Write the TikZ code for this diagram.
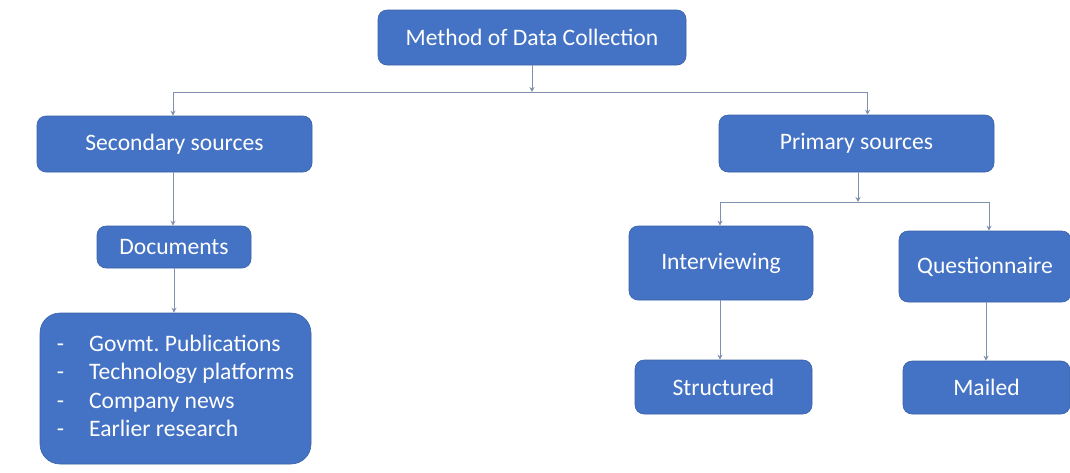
\documentclass[tikz,border=0pt]{standalone}
\usepackage{fontspec}
\setmainfont{Carlito}
\usetikzlibrary{arrows.meta}
\definecolor{boxblue}{HTML}{4472C4}
\definecolor{linec}{HTML}{7F8FAE}
\tikzset{
  box/.style={draw=boxblue!85!black, line width=0.6pt, fill=boxblue, text=white, rounded corners=9pt,
    inner sep=0pt, font=\fontsize{23.6}{28}\selectfont},
  conn/.style={draw=linec, line width=1pt, -{Stealth[length=5pt,width=5pt]}}
}
\begin{document}
\frenchspacing
\begin{tikzpicture}[x=1pt,y=-1pt]
\useasboundingbox[fill=white] (0,0) rectangle (1070,472);
\node[box, minimum width=308pt, minimum height=55pt] (m) at (532,37.5) {Method of Data Collection};
\node[box, minimum width=275pt, minimum height=56pt] (sec) at (174.5,144) {Secondary sources};
\node[box, minimum width=154pt, minimum height=42pt] (doc) at (174,247) {Documents};
\node[box, minimum width=271pt, minimum height=151pt, rounded corners=20pt] (lst) at (175.5,388.5)
  {\fontsize{23.6}{28.5}\selectfont\frenchspacing\begin{tabular}{@{}l@{\hspace{25pt}}l@{}}
  - & Govmt. Publications\\
  - & Technology platforms\\
  - & Company news\\
  - & Earlier research
  \end{tabular}\hspace{12pt}};
\node[box, minimum width=275pt, minimum height=57pt] (prim) at (856.5,143.5) {Primary sources};
\node[box, minimum width=184pt, minimum height=74pt] (intv) at (721,263) {Interviewing};
\node[box, minimum width=172pt, minimum height=71pt] (quest) at (985,266.5) {Questionnaire};
\node[box, minimum width=177pt, minimum height=54pt] (str) at (723.5,387) {Structured};
\node[box, minimum width=167pt, minimum height=53pt] (mail) at (986.5,387.5) {Mailed};
% connectors
\coordinate (j1) at (m.south |- 0,92);
\draw[conn] (m.south) -- (j1);
\draw[conn] (j1) -| ([xshift=-1.5pt]sec.north);
\draw[conn] (j1) -| ([xshift=11pt]prim.north);
\draw[conn] ([xshift=-1.5pt]sec.south) -- ([xshift=-1.5pt]sec.south |- doc.north);
\draw[conn] (doc.south) -- (lst.north -| doc.south);
\coordinate (j2) at ([xshift=1.5pt]prim.south |- 0,202);
\draw[conn] ([xshift=1.5pt]prim.south) -- (j2);
\draw[conn] (j2) -| ([xshift=-1pt]intv.north);
\draw[conn] (j2) -| ([xshift=4pt]quest.north);
\draw[conn] ([xshift=-1pt]intv.south) -- ([xshift=-1pt]intv.south |- str.north);
\draw[conn] ([xshift=1pt]quest.south) -- ([xshift=1pt]quest.south |- mail.north);
\end{tikzpicture}
\end{document}
